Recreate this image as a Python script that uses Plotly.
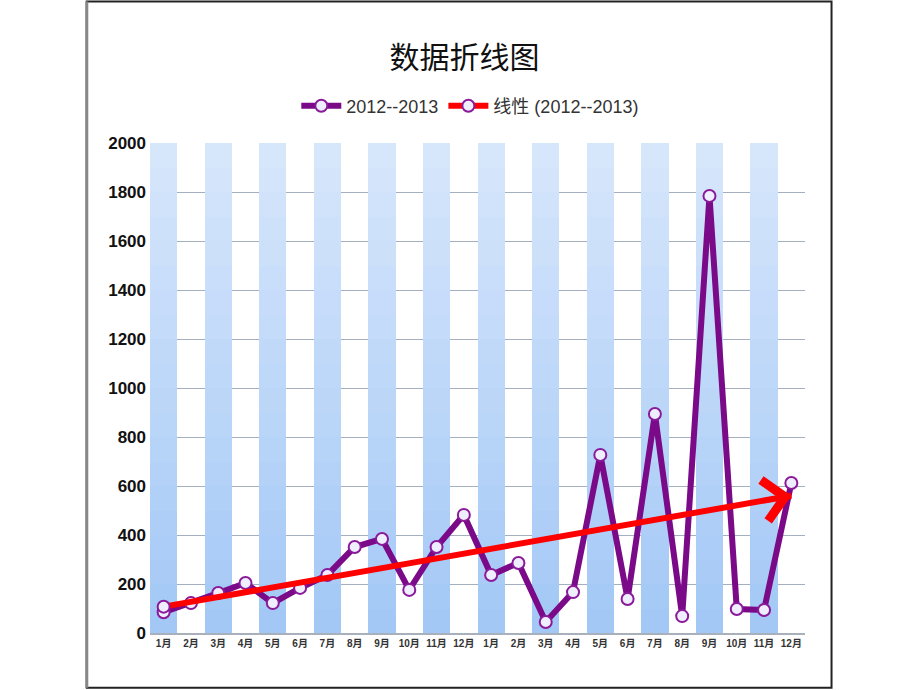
import numpy as np
import plotly.graph_objects as go

# ---- data ----
months = ["1月", "2月", "3月", "4月", "5月", "6月", "7月", "8月", "9月", "10月", "11月", "12月"] * 2
values = [85, 122, 163, 204, 122, 184, 237, 351, 384, 176, 351, 482,
          237, 286, 45, 167, 727, 139, 894, 69, 1784, 98, 94, 612]
series_name = "2012--2013"
trend_name = "线性 (2012--2013)"
y_ticks = [0, 200, 400, 600, 800, 1000, 1200, 1400, 1600, 1800, 2000]
title_text = "数据折线图"

x = np.arange(1, len(values) + 1)
slope, intercept = np.polyfit(x, values, 1)
trend = slope * x + intercept
n = len(x)

PURPLE = "#7a0a88"
MARK_LINE = "#8a1a9a"
MARK_FILL = "#eeeeff"
RED = "#ff0000"

fig = go.Figure()

# background alternating gradient bands (stacked segments)
band_x = [int(v) for v in x if v % 2 == 1]
ymax = y_ticks[-1]
nseg = 20
top = np.array([216, 231, 252])
bot = np.array([163, 200, 246])
for k in range(nseg):
    t = (k + 0.5) / nseg
    c = bot + (top - bot) * t
    col = "rgb(%d,%d,%d)" % tuple(c.astype(int))
    fig.add_trace(go.Bar(
        x=band_x, y=[ymax / nseg] * len(band_x), base=[ymax / nseg * k] * len(band_x),
        width=1.0, marker=dict(color=col, line=dict(width=0)),
        showlegend=False, hoverinfo="skip"))

# main series
fig.add_trace(go.Scatter(
    x=x, y=values, mode="lines+markers", name=series_name,
    line=dict(color=PURPLE, width=6),
    marker=dict(symbol="circle", size=12, color=MARK_FILL,
                line=dict(color=MARK_LINE, width=2)),
))

# trend line (drawn above the data line)
fig.add_trace(go.Scatter(
    x=x, y=trend, mode="lines", name=trend_name, showlegend=False,
    line=dict(color=RED, width=6), hoverinfo="skip",
))
# start marker of trend
fig.add_trace(go.Scatter(
    x=x[:1], y=trend[:1], mode="markers", showlegend=False, hoverinfo="skip",
    marker=dict(symbol="circle", size=12, color=MARK_FILL, line=dict(color=MARK_LINE, width=2)),
))

# legend entry for trend
fig.add_trace(go.Scatter(
    x=[None], y=[None], mode="lines+markers", name=trend_name,
    line=dict(color=RED, width=6),
    marker=dict(symbol="circle", size=12, color=MARK_FILL, line=dict(color=MARK_LINE, width=2)),
))

# arrow head at the end of the trend line
fig.add_annotation(
    x=x[-1], y=trend[-1], ax=x[-2], ay=trend[-2], xref="x", yref="y", axref="x", ayref="y",
    showarrow=True, arrowhead=4, arrowsize=1.6, arrowwidth=5, arrowcolor=RED, text="",
    standoff=0, startstandoff=0,
)

# frame around the chart
fig.add_shape(type="rect", xref="paper", yref="paper",
              x0=-0.0965, x1=1.0405, y0=-0.1115, y1=1.289,
              line=dict(color="#222222", width=2), layer="above")
fig.add_shape(type="line", xref="paper", yref="paper",
              x0=-0.0965, x1=-0.0965, y0=-0.1115, y1=1.289,
              line=dict(color="#888888", width=3), layer="above")

fig.update_layout(
    width=920, height=690,
    margin=dict(l=150, r=115, t=143, b=57),
    paper_bgcolor="white", plot_bgcolor="white",
    barmode="overlay", bargap=0,
    title=dict(text=title_text, x=0.505, xanchor="center", y=0.916, yanchor="middle",
               font=dict(family="Noto Sans CJK SC", size=30, color="#111111")),
    legend=dict(orientation="h", x=0.489, xanchor="center", y=1.0755, yanchor="middle",
                font=dict(family="Liberation Sans, Noto Sans CJK SC", size=18, color="#333333"),
                bgcolor="rgba(0,0,0,0)", itemwidth=40),
    showlegend=True,
)
fig.update_xaxes(range=[0.5, n + 0.5], tickvals=list(x), ticktext=months,
                 tickfont=dict(family="Liberation Sans, Noto Sans CJK SC", size=10, color="#333333", weight="bold"),
                 showgrid=False, showline=True, linecolor="#a8b0bc", linewidth=2,
                 ticks="", zeroline=False, tickangle=0)
fig.update_yaxes(range=[0, ymax], tickvals=y_ticks,
                 tickfont=dict(family="Liberation Sans", size=17, color="#111111", weight="bold"),
                 showgrid=True, gridcolor="#a4afbf", gridwidth=1,
                 ticks="", ticklabelstandoff=3,
                 zeroline=False, showline=False)

fig.write_html("out.html")
